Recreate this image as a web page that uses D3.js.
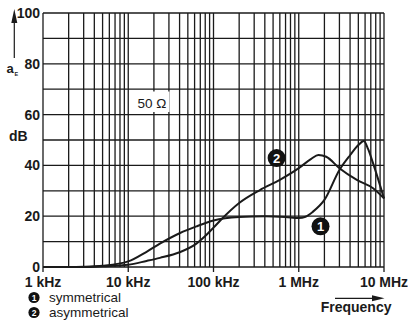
<!DOCTYPE html>
<html>
<head>
<meta charset="utf-8">
<script src="https://cdn.jsdelivr.net/npm/d3@7"></script>
<style>
  html, body { margin: 0; padding: 0; background: #fff; }
  svg { display: block; font-family: "Liberation Sans", Arial, Helvetica, sans-serif; }
</style>
</head>
<body>
<svg id="chart" width="408" height="327"></svg>
<script>
// Attenuation a_E (dB) versus frequency (Hz)
const symFreq = [1e3, 2e3, 3e3, 5e3, 1e4, 1.64e4, 2.35e4, 4e4, 6.3e4, 1e5, 2e5, 4e5, 7e5, 1e6, 1.2e6, 1.47e6, 2e6, 3e6, 4e6, 5e6, 5.8e6, 6.5e6, 7.45e6, 1e7];
const symDb   = [0,   0,   0.1, 0.5, 2.2, 6.0,    9.2,    13.3, 16,    18.3, 19.7, 20, 19.7, 19.3, 19.8, 21.8, 26.4, 38.2, 44, 48, 49.6, 46.5, 40.8, 27];

const asymFreq = [1e3, 3e3, 5e3, 1e4, 1.64e4, 2.35e4, 4e4, 6.3e4, 8e4, 1e5, 1.24e5, 2e5, 3.5e5, 6e5, 1e6, 1.4e6, 1.7e6, 2.1e6, 3e6, 4.8e6, 7.45e6, 1e7];
const asymDb   = [0,   0,   0.3, 0.9, 2.4,    3.6,    5.8, 9.2,   12.2, 15.5, 18.8, 25.2, 30.3, 34.3, 38.9, 42.6, 44.1, 43.4, 38.9, 34.3, 31, 27];

const yTicks = [0, 20, 40, 60, 80, 100];
const yGrid = d3.range(0, 101, 10);
const decades = [1e3, 1e4, 1e5, 1e6, 1e7];
const decadeLabels = ["1 kHz", "10 kHz", "100 kHz", "1 MHz", "10 MHz"];
const legendItems = ["symmetrical", "asymmetrical"];

const svg = d3.select("#chart");
const ink = "#1a1a1a";

const x = d3.scaleLog().domain([1e3, 1e7]).range([43, 384]);
const y = d3.scaleLinear().domain([0, 100]).range([267, 13]);

// minor + major vertical grid lines (1..9 per decade)
const vLines = [];
for (let d = 1e3; d < 1e7; d *= 10) {
  for (let k = 1; k <= 9; k++) vLines.push(d * k);
}
vLines.push(1e7);

const grid = svg.append("g");
grid.selectAll("line.v").data(vLines).join("line")
  .attr("x1", d => x(d)).attr("x2", d => x(d))
  .attr("y1", y(100))
  .attr("y2", d => decades.some(m => Math.abs(m - d) < 1) ? y(0) + 5 : y(0))
  .attr("stroke", ink).attr("stroke-width", 1.3);

grid.selectAll("line.h").data(yGrid).join("line")
  .attr("x1", x(1e3)).attr("x2", x(1e7))
  .attr("y1", d => y(d)).attr("y2", d => y(d))
  .attr("stroke", ink).attr("stroke-width", 1.3);

// impedance note on a white patch
svg.append("rect").attr("x", 134.5).attr("y", 91.5).attr("width", 35).attr("height", 20.5).attr("fill", "#fff");
svg.append("text").attr("x", 152).attr("y", 108).attr("text-anchor", "middle")
  .attr("font-size", 13.5).attr("fill", ink).text("50 Ω");

// curves
const line = d3.line().x(d => x(d[0])).y(d => y(d[1])).curve(d3.curveMonotoneX);
svg.append("path").datum(d3.zip(symFreq, symDb)).attr("d", line)
  .attr("fill", "none").attr("stroke", ink).attr("stroke-width", 2);
svg.append("path").datum(d3.zip(asymFreq, asymDb)).attr("d", line)
  .attr("fill", "none").attr("stroke", ink).attr("stroke-width", 2);

// numbered markers on the curves
function badge(cx, cy, r, label, fs) {
  const g = svg.append("g");
  g.append("circle").attr("cx", cx).attr("cy", cy).attr("r", r).attr("fill", "#111");
  g.append("text").attr("x", cx).attr("y", cy).attr("dy", "0.36em").attr("text-anchor", "middle")
    .attr("font-size", fs).attr("font-weight", "bold").attr("fill", "#fff").text(label);
}
badge(x(5.5e5), y(42.9), 9, "2", 13);
badge(x(1.8e6), y(16), 9, "1", 13);

// y axis labels
svg.append("g").selectAll("text").data(yTicks).join("text")
  .attr("x", 40).attr("y", d => y(d) + 5).attr("text-anchor", "end")
  .attr("font-size", 14).attr("font-weight", "bold").attr("fill", ink).text(d => d);

// x axis labels
svg.append("g").selectAll("text").data(decades).join("text")
  .attr("x", d => x(d)).attr("y", 287).attr("text-anchor", "middle")
  .attr("font-size", 14).attr("font-weight", "bold").attr("fill", ink)
  .text((d, i) => decadeLabels[i]);

// y axis title with upward arrow
svg.append("line").attr("x1", 14.3).attr("x2", 14.3).attr("y1", 58).attr("y2", 20)
  .attr("stroke", ink).attr("stroke-width", 1.2);
svg.append("path").attr("d", "M14.3,9 L11.3,23 L17.3,23 Z").attr("fill", ink);
svg.append("text").attr("x", 6.5).attr("y", 73).attr("font-size", 13).attr("font-weight", "bold")
  .attr("fill", ink).text("a");
svg.append("text").attr("x", 14.6).attr("y", 76).attr("font-size", 5.5).attr("font-weight", "bold")
  .attr("fill", ink).text("E");
svg.append("text").attr("x", 9).attr("y", 141).attr("font-size", 14).attr("font-weight", "bold")
  .attr("fill", ink).text("dB");

// x axis title with right arrow
svg.append("line").attr("x1", 335).attr("x2", 374).attr("y1", 298.3).attr("y2", 298.3)
  .attr("stroke", ink).attr("stroke-width", 1.2);
svg.append("path").attr("d", "M384.5,298.3 L372,295.3 L372,301.3 Z").attr("fill", ink);
svg.append("text").attr("x", 391.5).attr("y", 311.5).attr("text-anchor", "end")
  .attr("font-size", 14).attr("font-weight", "bold").attr("fill", ink).text("Frequency");

// legend
legendItems.forEach((t, i) => {
  const cy = 297.5 + i * 15;
  badge(34, cy, 5.6, String(i + 1), 8.5);
  svg.append("text").attr("x", 49).attr("y", cy + 4.8).attr("font-size", 13.5)
    .attr("fill", ink).text(t);
});
</script>
</body>
</html>
